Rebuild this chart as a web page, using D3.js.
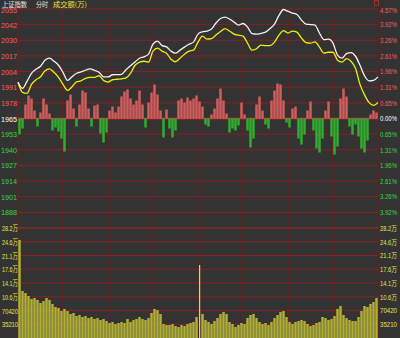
<!DOCTYPE html>
<html lang="zh">
<head>
<meta charset="UTF-8">
<title>上证指数 分时</title>
<script src="https://cdn.jsdelivr.net/npm/d3@7/dist/d3.min.js"></script>
<style>
  body{margin:0;background:#333;}
  svg{display:block;}
</style>
</head>
<body>
<script>
// 昨收和每格的点数
var preClose = 1965.08, step = 12.846;
var priceLabels = ["2055","2042","2030","2017","2004","1991","1978","1965","1953","1940","1927","1914","1901","1888"];
var pctLabels = ["4.57%","3.92%","3.26%","2.61%","1.96%","1.31%","0.65%","0.00%","0.65%","1.31%","1.96%","2.61%","3.26%","3.92%"];
var volTicks = [281680,246470,211260,176050,140840,105630,70420,35210];
var volLabels = ["28.2万","24.6万","21.1万","17.6万","14.1万","10.6万","70420","35210"];

// 每3分钟一个点 (0..240)
var priceLine = [1994.8,1989.8,1995.6,2002.2,2005.5,2008.0,2012.9,2014.6,2012.1,2008.8,
  2003.0,1996.4,1999.3,2002.2,2003.4,2004.7,2005.9,2004.7,2003.0,1999.3,
  1999.2,2001.0,2001.1,2001.4,2005.1,2008.4,2011.5,2014.6,2015.7,2017.9,
  2026.1,2028.6,2024.9,2023.9,2020.4,2018.7,2021.2,2023.7,2026.1,2027.8,
  2034.4,2036.3,2036.9,2038.5,2043.5,2047.2,2048.4,2046.8,2044.3,2041.8,
  2043.1,2040.2,2034.8,2034.4,2035.0,2036.0,2038.9,2042.6,2049.7,2054.6,
  2053.0,2051.7,2050.5,2045.9,2042.6,2042.2,2041.8,2035.2,2029.9,2030.3,
  2027.0,2017.1,2014.6,2018.3,2019.1,2016.2,2008.8,2000.2,1996.0,1996.4,
  1999.3];
var avgLine = [1994.8,1986.5,1985.7,1993.1,1996.9,1999.3,2004.3,2005.9,2003.0,1998.9,
  1993.1,1988.2,1991.1,1995.2,1996.0,1998.1,1998.9,1998.9,2000.2,1996.4,
  1995.0,1996.9,1997.3,1997.7,1998.5,2002.2,2008.8,2011.3,2012.1,2011.3,
  2020.4,2022.8,2020.4,2018.7,2013.8,2011.7,2014.6,2017.9,2020.4,2021.2,
  2027.8,2032.7,2030.3,2030.7,2033.6,2036.5,2038.9,2036.9,2034.4,2033.6,
  2032.7,2027.0,2021.2,2022.4,2025.3,2024.9,2024.9,2027.8,2033.6,2037.3,
  2035.2,2036.9,2036.0,2031.1,2027.4,2027.0,2028.0,2023.7,2018.7,2019.5,
  2019.5,2012.9,2011.3,2014.2,2012.1,2006.3,1993.1,1984.5,1978.3,1975.8,
  1978.3];

// 每2分钟一根柱 (120根)
var power = [-16,-10,14,23,20,8,-8,6,20,14,
  5,-12,-9,-13,-20,-33,18,24,10,-8,
  14,28,26,10,-8,13,14,-15,-24,-14,
  8,12,6,12,22,27,29,20,14,18,
  28,14,-9,16,26,34,24,8,-19,9,
  -10,-19,-12,18,20,16,21,18,20,23,
  17,12,-6,-8,4,10,20,30,18,5,
  -14,-10,-12,-7,16,4,-12,-29,-20,14,
  22,8,-6,-10,18,28,35,34,18,-4,
  -9,10,12,-20,-26,-16,8,17,-12,-30,
  -34,-20,8,17,-18,-36,-28,20,30,22,
  -8,-16,-6,-18,-30,-34,-22,4,8,6];
var volume = [251000,120400,115200,107500,99900,102400,97300,89600,94700,102400,
  97300,87100,79400,76800,69100,74300,69100,61500,64000,56300,
  58900,53800,56300,51200,53800,48700,51200,46100,48700,43500,
  38400,41000,35800,38400,41000,38400,48700,41000,46100,48700,
  53800,48700,46100,51200,64000,74300,71700,61500,35800,33300,
  33300,35800,30700,28200,33300,30700,35800,38400,41000,53800,
  186900,61500,46100,41000,35800,43500,51200,61500,66600,61500,
  41000,35800,28200,33300,38400,35800,51200,58900,61500,51200,
  41000,35800,38400,33300,41000,51200,58900,66600,69100,53800,
  41000,35800,41000,43500,46100,43500,35800,30700,33300,38400,
  41000,53800,51200,46100,48700,56300,74300,81900,58900,51200,
  46100,43500,43500,53800,69100,81900,79400,87100,92200,102400];

var width=400,height=338;
var plotL=18,plotR=378,plotT=9,plotSplit=228,plotB=338;

var svg=d3.select("body").append("svg")
  .attr("width",width)
  .attr("height",height);
svg.append("rect").attr("width",width).attr("height",height).attr("fill","#333333");

var x=d3.scaleLinear().domain([0,240]).range([plotL,plotR]);
var yP=d3.scaleLinear().domain([preClose-7*step,preClose+7*step]).range([plotSplit,plotT]);
var yV=d3.scaleLinear().domain([0,volTicks[0]]).range([plotB,plotSplit]);
var mid=yP(preClose);
var yB=d3.scaleLinear().domain([-100,100]).range([mid+100,mid-100]);

var levels=d3.range(7,-8,-1).map(function(k){return preClose+k*step;});

// 网格
var grid=svg.append("g");
grid.selectAll(".v").data(d3.range(0,241,30)).enter().append("line")
  .attr("x1",function(d){return x(d);}).attr("x2",function(d){return x(d);})
  .attr("y1",plotT).attr("y2",plotB)
  .attr("stroke","#6e1e1e").attr("stroke-width",1);
grid.selectAll(".hp").data(levels).enter().append("line")
  .attr("x1",plotL).attr("x2",plotR)
  .attr("y1",function(d){return yP(d);}).attr("y2",function(d){return yP(d);})
  .attr("stroke",function(d,i){return i==7?"#c83030":(i==14?"#a82828":"#8a2020");})
  .attr("stroke-width",function(d,i){return i==7?1.4:1;});
grid.selectAll(".hv").data(volTicks.slice(1)).enter().append("line")
  .attr("x1",plotL).attr("x2",plotR)
  .attr("y1",function(d){return yV(d);}).attr("y2",function(d){return yV(d);})
  .attr("stroke","#8a2020").attr("stroke-width",1);

// 红绿柱
var bw=x(2)-x(0);
svg.append("g").selectAll("rect").data(power).enter().append("rect")
  .attr("x",function(d,i){return x(i*2)+0.25;})
  .attr("width",bw-0.5)
  .attr("y",function(d){return Math.min(yB(d),mid);})
  .attr("height",function(d){return Math.abs(yB(d)-mid);})
  .attr("fill",function(d){return d>=0?"#e26262":"#2fbb2f";})
  .attr("opacity",0.9);

// 成交量
svg.append("g").selectAll("rect").data(volume).enter().append("rect")
  .attr("x",function(d,i){return (d>150000&&i>0)?x(i*2)+1:x(i*2)+0.25;})
  .attr("width",function(d,i){return (d>150000&&i>0)?1.2:bw-0.5;})
  .attr("y",function(d){return yV(d);})
  .attr("height",function(d){return plotB-yV(d);})
  .attr("fill",function(d,i){return (d>150000&&i>0)?"#ffff33":"#c4c43a";})
  .attr("opacity",0.85);

// 价格线 和 均价线
var line=d3.line().x(function(d,i){return x(i*3);}).y(function(d){return yP(d);}).curve(d3.curveMonotoneX);
svg.append("path").datum(avgLine).attr("d",line)
  .attr("fill","none").attr("stroke","#f0f000").attr("stroke-width",1.3);
svg.append("path").datum(priceLine).attr("d",line)
  .attr("fill","none").attr("stroke","#f2f2f2").attr("stroke-width",1.3);

function labelColor(i){return i<7?"#ff5c5c":(i==7?"#ffffff":"#3ad93a");}

// 左轴
var leftAxis=d3.axisLeft(yP).tickValues(levels.slice(0,14)).tickSize(0).tickPadding(1)
  .tickFormat(function(d,i){return priceLabels[i];});
var gl=svg.append("g").attr("transform","translate("+plotL+",0)").call(leftAxis);
gl.select(".domain").remove();
gl.selectAll("text").attr("fill",function(d,i){return labelColor(i);})
  .style("font-family","Liberation Sans, Arial, sans-serif").style("font-size","8px")
  .attr("textLength",16).attr("lengthAdjust","spacingAndGlyphs");
gl.selectAll(".tick").filter(function(d,i){return i==0;}).select("text").attr("dy","0.45em");

var leftVol=d3.axisLeft(yV).tickValues(volTicks).tickSize(0).tickPadding(0)
  .tickFormat(function(d,i){return volLabels[i];});
var glv=svg.append("g").attr("transform","translate("+plotL+",0)").call(leftVol);
glv.select(".domain").remove();
glv.selectAll("text").attr("fill","#e6e64a")
  .style("font-family","Liberation Sans, Noto Sans CJK SC, sans-serif").style("font-size","8px")
  .attr("textLength",16).attr("lengthAdjust","spacingAndGlyphs");

// 右轴
var rightAxis=d3.axisRight(yP).tickValues(levels.slice(0,14)).tickSize(0).tickPadding(2)
  .tickFormat(function(d,i){return pctLabels[i];});
var gr=svg.append("g").attr("transform","translate("+plotR+",0)").call(rightAxis);
gr.select(".domain").remove();
gr.selectAll("text").attr("fill",function(d,i){return labelColor(i);})
  .style("font-family","Liberation Sans, Arial, sans-serif").style("font-size","7px")
  .attr("textLength",17).attr("lengthAdjust","spacingAndGlyphs");
gr.selectAll(".tick").filter(function(d,i){return i==0;}).select("text").attr("dy","0.5em");

var rightVol=d3.axisRight(yV).tickValues(volTicks).tickSize(0).tickPadding(2)
  .tickFormat(function(d,i){return volLabels[i];});
var grv=svg.append("g").attr("transform","translate("+plotR+",0)").call(rightVol);
grv.select(".domain").remove();
grv.selectAll("text").attr("fill","#e6e64a")
  .style("font-family","Liberation Sans, Noto Sans CJK SC, sans-serif").style("font-size","7px")
  .attr("textLength",17).attr("lengthAdjust","spacingAndGlyphs");

// 标题
var title=svg.append("g").style("font-family","Noto Sans CJK SC, sans-serif").style("font-size","6.5px");
title.append("text").attr("x",2).attr("y",6.5).attr("fill","#e8e8e8").text("上证指数")
  .attr("textLength",25).attr("lengthAdjust","spacingAndGlyphs");
title.append("text").attr("x",36).attr("y",6.5).attr("fill","#e8e8e8").text("分时")
  .attr("textLength",12).attr("lengthAdjust","spacingAndGlyphs");
title.append("text").attr("x",53).attr("y",6.5).attr("fill","#e8e832").text("成交额(万)")
  .attr("textLength",34).attr("lengthAdjust","spacingAndGlyphs");

svg.append("rect").attr("x",374.5).attr("y",0.5).attr("width",4).attr("height",5)
  .attr("fill","none").attr("stroke","#a03030");
</script>
</body>
</html>
